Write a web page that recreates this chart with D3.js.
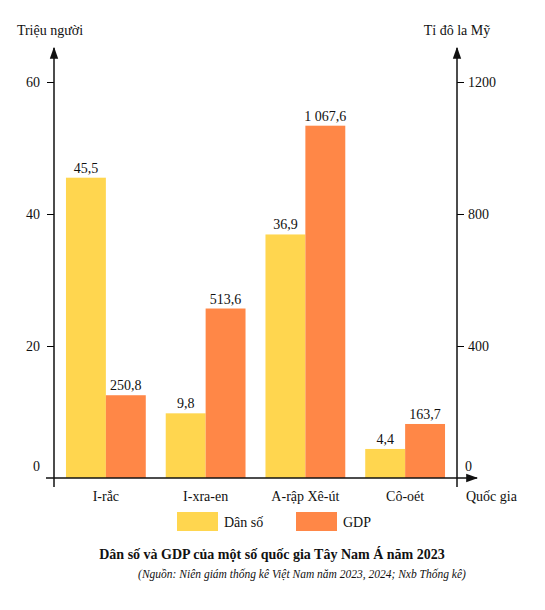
<!DOCTYPE html>
<html>
<head>
<meta charset="utf-8">
<script src="https://cdn.jsdelivr.net/npm/d3@7"></script>
<style>
  body { margin: 0; background: #fff; }
  svg text { font-family: "Liberation Serif", "Times New Roman", serif; fill: #111; }
</style>
</head>
<body>
<div id="chart"></div>
<script>
// data
var countries = ["I-rắc", "I-xra-en", "A-rập Xê-út", "Cô-oét"];
var population = [45.5, 9.8, 36.9, 4.4];        // triệu người
var gdp = [250.8, 513.6, 1067.6, 163.7];         // tỉ đô la Mỹ
var leftTicks = [0, 20, 40, 60];
var rightTicks = [0, 400, 800, 1200];
var seriesNames = ["Dân số", "GDP"];

var colors = { pop: "#FFD64F", gdp: "#FF8747" };
var fmt = function(v){ return d3.format(",.1f")(v).replace(".", "#").replace(/,/g, " ").replace("#", ","); };

var W = 545, H = 610;
var left = 54, right = 457, base = 478;

var svg = d3.select("#chart").append("svg")
    .attr("width", W)
    .attr("height", H);

svg.append("defs").append("marker")
    .attr("id", "arrow")
    .attr("viewBox", "0 0 10 10")
    .attr("refX", 9).attr("refY", 5)
    .attr("markerWidth", 8).attr("markerHeight", 8)
    .attr("orient", "auto")
    .append("path")
    .attr("d", "M0,1.5 L10,5 L0,8.5 Z")
    .attr("fill", "#111");

var x = d3.scaleBand().domain(countries).range([left, right]).paddingInner(0.2).paddingOuter(0.12);
var sub = d3.scaleBand().domain(["pop", "gdp"]).range([0, x.bandwidth()]);
var y = d3.scaleLinear().domain([0, 60]).range([base, 82]);
var yR = d3.scaleLinear().domain([0, 1200]).range([base, 82]);

// bars
var groups = svg.selectAll(".grp")
    .data(countries)
    .enter().append("g")
    .attr("class", "grp")
    .attr("transform", function(d){ return "translate(" + x(d) + ",0)"; });

groups.append("rect")
    .attr("x", sub("pop"))
    .attr("width", sub.bandwidth())
    .attr("y", function(d, i){ return y(population[i]); })
    .attr("height", function(d, i){ return base - y(population[i]); })
    .attr("fill", colors.pop);

groups.append("rect")
    .attr("x", sub("gdp"))
    .attr("width", sub.bandwidth())
    .attr("y", function(d, i){ return yR(gdp[i]); })
    .attr("height", function(d, i){ return base - yR(gdp[i]); })
    .attr("fill", colors.gdp);

// value labels
groups.append("text")
    .attr("x", sub("pop") + sub.bandwidth() / 2)
    .attr("y", function(d, i){ return y(population[i]) - 5; })
    .attr("text-anchor", "middle")
    .style("font-size", "14px")
    .text(function(d, i){ return fmt(population[i]); });

groups.append("text")
    .attr("x", sub("gdp") + sub.bandwidth() / 2)
    .attr("y", function(d, i){ return yR(gdp[i]) - 5; })
    .attr("text-anchor", "middle")
    .style("font-size", "14px")
    .text(function(d, i){ return fmt(gdp[i]); });

// left axis
var gl = svg.append("g")
    .attr("transform", "translate(" + left + ",0)")
    .call(d3.axisLeft(y).tickValues(leftTicks).tickFormat(d3.format("d")).tickSize(7).tickPadding(7));
gl.select(".domain").remove();
gl.selectAll("text").style("font-size", "14px").style("font-family", "Liberation Serif");
gl.selectAll(".tick").filter(function(d){ return d === 0; }).select("text").attr("y", -12);
gl.selectAll(".tick").filter(function(d){ return d === 0; }).select("line").remove();

// right axis
var gr = svg.append("g")
    .attr("transform", "translate(" + right + ",0)")
    .call(d3.axisRight(yR).tickValues(rightTicks).tickFormat(d3.format("d")).tickSize(7).tickPadding(4));
gr.select(".domain").remove();
gr.selectAll("text").style("font-size", "14px").style("font-family", "Liberation Serif");
gr.selectAll(".tick").filter(function(d){ return d === 0; }).select("text").attr("x", 8).attr("y", -12);
gr.selectAll(".tick").filter(function(d){ return d === 0; }).select("line").remove();

// axis lines with arrows
svg.append("line")
    .attr("x1", left).attr("x2", left)
    .attr("y1", base + 9).attr("y2", 48)
    .attr("stroke", "#111").attr("stroke-width", 1.5)
    .attr("marker-end", "url(#arrow)");
svg.append("line")
    .attr("x1", right).attr("x2", right)
    .attr("y1", base + 9).attr("y2", 48)
    .attr("stroke", "#111").attr("stroke-width", 1.5)
    .attr("marker-end", "url(#arrow)");
svg.append("line")
    .attr("x1", left - 8).attr("x2", 477)
    .attr("y1", base).attr("y2", base)
    .attr("stroke", "#111").attr("stroke-width", 1.5)
    .attr("marker-end", "url(#arrow)");

// category labels
svg.selectAll(".cat")
    .data(countries)
    .enter().append("text")
    .attr("class", "cat")
    .attr("x", function(d){ return x(d) + x.bandwidth() / 2; })
    .attr("y", 501)
    .attr("text-anchor", "middle")
    .style("font-size", "14px")
    .text(function(d){ return d; });

// axis titles
svg.append("text").attr("x", 50).attr("y", 35).attr("text-anchor", "middle")
    .style("font-size", "14px").text("Triệu người");
svg.append("text").attr("x", 457).attr("y", 35).attr("text-anchor", "middle")
    .style("font-size", "14px").text("Tỉ đô la Mỹ");
svg.append("text").attr("x", 466).attr("y", 501)
    .style("font-size", "14px").text("Quốc gia");

// legend
var legend = svg.append("g").attr("transform", "translate(177,512)");
var lg = legend.selectAll(".lg")
    .data(seriesNames)
    .enter().append("g")
    .attr("transform", function(d, i){ return "translate(" + (i * 119) + ",0)"; });
lg.append("rect")
    .attr("width", 41).attr("height", 19)
    .attr("fill", function(d, i){ return i === 0 ? colors.pop : colors.gdp; });
lg.append("text")
    .attr("x", 47).attr("y", 15)
    .style("font-size", "14px")
    .text(function(d){ return d; });

// title and source
svg.append("text").attr("x", 272).attr("y", 559).attr("text-anchor", "middle")
    .style("font-size", "14px").style("font-weight", "bold")
    .text("Dân số và GDP của một số quốc gia Tây Nam Á năm 2023");
svg.append("text").attr("x", 302).attr("y", 578).attr("text-anchor", "middle")
    .style("font-size", "11.5px").style("font-style", "italic")
    .text("(Nguồn: Niên giám thống kê Việt Nam năm 2023, 2024; Nxb Thống kê)");
</script>
</body>
</html>
